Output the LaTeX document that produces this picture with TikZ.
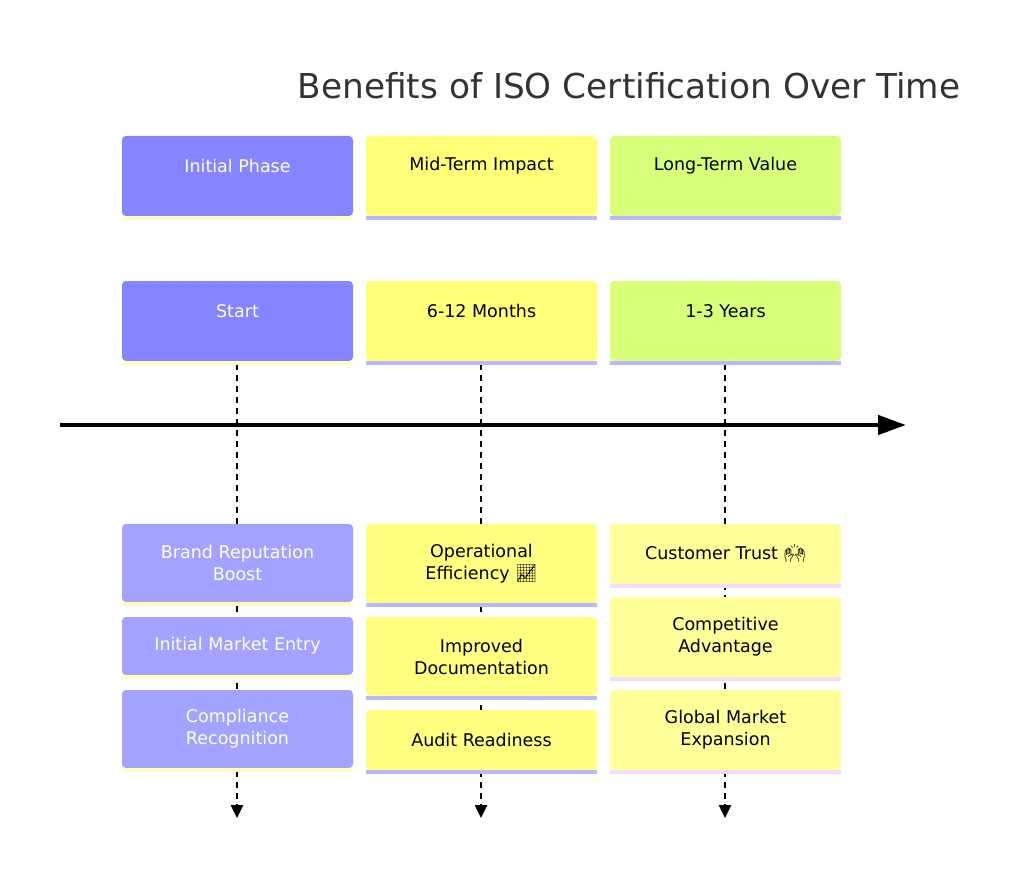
\documentclass[tikz,border=0pt]{standalone}
\usepackage{fontspec}
\setmainfont{DejaVu Sans}
\newfontfamily\emo{Noto Emoji}
\usetikzlibrary{arrows.meta}
\definecolor{pA}{HTML}{8585FF}
\definecolor{yA}{HTML}{FFFF78}
\definecolor{gA}{HTML}{D9FF7A}
\definecolor{pB}{HTML}{A3A3FF}
\definecolor{yB}{HTML}{FFFF80}
\definecolor{yC}{HTML}{FFFF99}
\definecolor{sY}{HTML}{FFFFC0}
\definecolor{sP}{HTML}{B8B8FF}
\definecolor{sK}{HTML}{F5DCFF}
\tikzset{
 lbl/.style={font=\fontsize{17.5}{22}\selectfont,align=center},
 dline/.style={dash pattern=on 6pt off 5pt,line width=2.5pt,-{Triangle[length=13pt,width=12pt]}},
}
\newcommand{\bx}[9]{%
 \fill[#6,rounded corners=4pt] (#2,#3) rectangle (#4,#5);
 \fill[#7] (#2,#5) rectangle (#4,#5+4);
 \node[lbl,text=#8] (#1) at ({(#2+#4)/2},{(#3+#5)/2}) {#9};}
\begin{document}
\begin{tikzpicture}[x=1pt,y=-1pt]
\useasboundingbox (0,0) rectangle (1024,877);
\node[font=\fontsize{34.3}{40}\selectfont,anchor=east,text=black!80] (title) at (964,86) {Benefits of ISO Certification Over Time};
% dashed lines
\coordinate (e1) at (237,818); \coordinate (e2) at (481,818); \coordinate (e3) at (725,818);
\coordinate (s1) at (237,364); \coordinate (s2) at (481,364); \coordinate (s3) at (725,364);
\draw[dline] (s1) -- (e1);
\draw[dline] (s2) -- (e2);
\draw[dline] (s3) -- (e3);
% timeline
\coordinate (t0) at (60,425); \coordinate (t1) at (906,425);
\draw[line width=4.5pt,-{Triangle[length=28pt,width=19pt]}] (t0) -- (t1);
% headers
\fill[pA,rounded corners=4pt] (122,136) rectangle (353,216); \fill[sY] (122,216) rectangle (353,220);
\fill[yA,rounded corners=4pt] (366,136) rectangle (597,216); \fill[sP] (366,216) rectangle (597,220);
\fill[gA,rounded corners=4pt] (610,136) rectangle (841,216); \fill[sP] (610,216) rectangle (841,220);
\node[lbl,text=white] (h1) at (237.5,166) {Initial Phase};
\node[lbl] (h2) at (481.5,166) {Mid-Term Impact};
\node[lbl] (h3) at (725.5,166) {Long-Term Value};
\fill[pA,rounded corners=4pt] (122,281) rectangle (353,361); \fill[sY] (122,361) rectangle (353,365);
\fill[yA,rounded corners=4pt] (366,281) rectangle (597,361); \fill[sP] (366,361) rectangle (597,365);
\fill[gA,rounded corners=4pt] (610,281) rectangle (841,361); \fill[sP] (610,361) rectangle (841,365);
\node[lbl,text=white] (p1) at (237.5,311) {Start};
\node[lbl] (p2) at (481.5,311) {6-12 Months};
\node[lbl] (p3) at (725.5,311) {1-3 Years};
% items
\bx{a1}{122}{524}{353}{602}{pB}{sY}{white}{Brand Reputation\\Boost}
\bx{a2}{122}{617}{353}{675}{pB}{sY}{white}{Initial Market Entry}
\bx{a3}{122}{690}{353}{768}{pB}{sY}{white}{Compliance\\Recognition}
\bx{b1}{366}{524}{597}{603}{yB}{sP}{black}{Operational\\Efficiency {\emo 📈}}
\bx{b2}{366}{617}{597}{696}{yB}{sP}{black}{Improved\\Documentation}
\bx{b3}{366}{710}{597}{770}{yB}{sP}{black}{Audit Readiness}
\bx{c1}{610}{524}{841}{584}{yC}{sK}{black}{Customer Trust {\emo 🙌}}
\bx{c2}{610}{597}{841}{677}{yC}{sK}{black}{Competitive\\Advantage}
\bx{c3}{610}{690}{841}{770}{yC}{sK}{black}{Global Market\\Expansion}
\end{tikzpicture}
\end{document}
